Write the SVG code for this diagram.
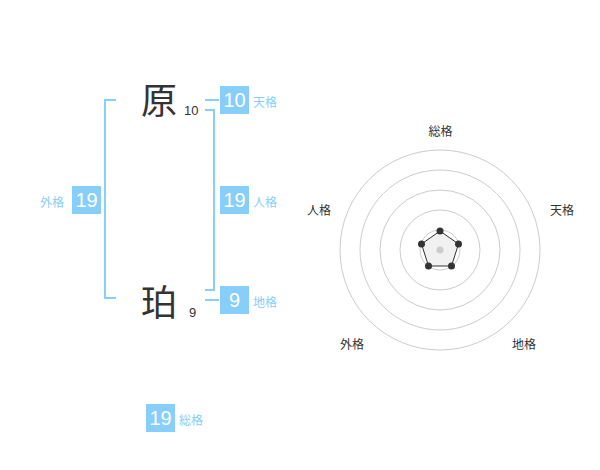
<svg xmlns="http://www.w3.org/2000/svg" width="600" height="470" viewBox="0 0 600 470">
<style>
.kanji{font-family:"Noto Sans CJK JP","Noto Sans",sans-serif;font-size:36px;fill:#333;text-anchor:middle;dominant-baseline:central}
.stroke{font-family:"Liberation Sans",Arial,sans-serif;font-size:13px;fill:#333}
.box{fill:#87cefa}
.num{font-family:"Liberation Sans",Arial,sans-serif;font-size:20px;fill:#fff;text-anchor:middle;dominant-baseline:central}
.lbl{font-family:"Noto Sans CJK JP",sans-serif;font-size:12px;fill:#87cefa;dominant-baseline:central}
.br{fill:none;stroke:#87cefa;stroke-width:2}
.ring{fill:none;stroke:#ccc;stroke-width:1}
.rl{font-family:"Noto Sans CJK JP",sans-serif;font-size:12px;fill:#333;text-anchor:middle;dominant-baseline:central}
.dot{fill:#333}
</style>
<rect width="600" height="470" fill="#fff"/>
<g id="connectors">
<path class="br" d="M116,100 H105 V298 H116"/>
<path class="br" d="M205,110 H214 V290 H205"/>
<path class="br" d="M205,100 H219"/>
<path class="br" d="M205,300 H219"/>
</g>
<g id="char1">
<text class="kanji" x="159" y="98">原</text>
<text class="stroke" x="184" y="115">10</text>
</g>
<g id="char2">
<text class="kanji" x="159" y="300">珀</text>
<text class="stroke" x="189" y="317">9</text>
</g>
<g id="tenkaku">
<rect class="box" x="220" y="86" width="29" height="28"/>
<text class="num" x="234.5" y="100">10</text>
<text class="lbl" x="253" y="101">天格</text>
</g>
<g id="jinkaku">
<rect class="box" x="220" y="186" width="29" height="28"/>
<text class="num" x="234.5" y="200">19</text>
<text class="lbl" x="253" y="201">人格</text>
</g>
<g id="chikaku">
<rect class="box" x="220" y="286" width="29" height="28"/>
<text class="num" x="234.5" y="300">9</text>
<text class="lbl" x="253" y="301">地格</text>
</g>
<g id="gaikaku">
<rect class="box" x="72" y="186" width="29" height="28"/>
<text class="num" x="86.5" y="200">19</text>
<text class="lbl" x="40" y="201">外格</text>
</g>
<g id="soukaku">
<rect class="box" x="146" y="404" width="29" height="28"/>
<text class="num" x="160.5" y="418">19</text>
<text class="lbl" x="179" y="419">総格</text>
</g>
<g id="radar">
<circle class="ring" cx="440" cy="250" r="20"/>
<circle class="ring" cx="440" cy="250" r="40"/>
<circle class="ring" cx="440" cy="250" r="60"/>
<circle class="ring" cx="440" cy="250" r="80"/>
<circle class="ring" cx="440" cy="250" r="100"/>
<polygon points="440,231 458.5,244 451.5,266 428.5,266 421.5,244" fill="#f0f0f0" fill-opacity="0.9" stroke="#333" stroke-width="1"/>
<circle cx="440" cy="250" r="3.5" fill="#ccc"/>
<circle class="dot" cx="440" cy="231" r="3.5"/>
<circle class="dot" cx="458.5" cy="244" r="3.5"/>
<circle class="dot" cx="451.5" cy="266" r="3.5"/>
<circle class="dot" cx="428.5" cy="266" r="3.5"/>
<circle class="dot" cx="421.5" cy="244" r="3.5"/>
<text class="rl" x="440.5" y="130">総格</text>
<text class="rl" x="562" y="209">天格</text>
<text class="rl" x="524" y="343">地格</text>
<text class="rl" x="352" y="343">外格</text>
<text class="rl" x="319" y="209">人格</text>
</g>
</svg>
